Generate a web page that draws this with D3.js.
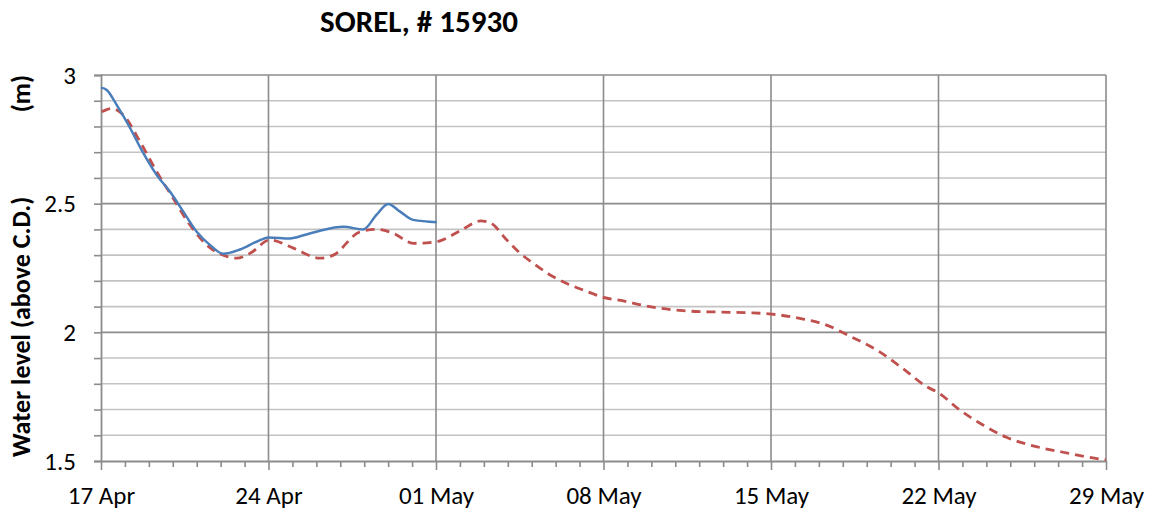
<!DOCTYPE html>
<html><head><meta charset="utf-8">
<script src="https://cdn.jsdelivr.net/npm/d3@7"></script>
<style>
body{margin:0;background:#fff;}
text{font-family:Carlito,Lato,"Liberation Sans",sans-serif;}
</style></head>
<body><svg id="c" width="1149" height="517"></svg>
<script>
// ---- data (day offset from 17 Apr, water level in m) ----
const xTickDays = [0, 7, 14, 21, 28, 35, 42];
const xTickLabels = ["17 Apr", "24 Apr", "01 May", "08 May", "15 May", "22 May", "29 May"];
const yTicks = [1.5, 2, 2.5, 3];
const observedDays = [0, 0.24, 0.66, 1.21, 1.77, 2.33, 2.88, 3.44, 4.0, 4.56, 5.11, 5.81, 6.5, 7.0, 7.9, 8.5, 9.15, 10.13, 10.96, 11.51, 12.0, 12.5, 13.05, 14.03];
const observedLevels = [2.951, 2.942, 2.883, 2.795, 2.696, 2.611, 2.547, 2.469, 2.391, 2.339, 2.305, 2.322, 2.352, 2.369, 2.365, 2.378, 2.395, 2.41, 2.40, 2.456, 2.499, 2.469, 2.437, 2.428];
const forecastDays = [0.03, 0.45, 0.93, 1.63, 2.33, 3.02, 3.72, 4.42, 5.11, 5.67, 6.23, 7.06, 8.04, 9.15, 9.71, 10.83, 11.52, 12.21, 13.05, 14.02, 15.02, 15.86, 16.26, 16.96, 17.52, 18.07, 18.77, 19.46, 20.16, 21.0, 21.83, 22.81, 24.33, 25.72, 27.12, 28.02, 29.2, 30.32, 31.3, 32.42, 33.6, 34.5, 35.0, 35.89, 36.86, 37.84, 38.95, 40.2, 41.74, 42];
const forecastLevels = [2.857, 2.87, 2.845, 2.741, 2.624, 2.52, 2.417, 2.339, 2.30, 2.288, 2.307, 2.359, 2.327, 2.288, 2.30, 2.391, 2.40, 2.385, 2.346, 2.352, 2.395, 2.433, 2.426, 2.359, 2.307, 2.268, 2.223, 2.19, 2.164, 2.136, 2.122, 2.102, 2.084, 2.079, 2.076, 2.071, 2.054, 2.028, 1.985, 1.931, 1.853, 1.789, 1.765, 1.698, 1.64, 1.592, 1.559, 1.534, 1.508, 1.505];

const svg = d3.select("#c");
const L = 101, R = 1106, T = 75, B = 461;
const x = d3.scaleLinear().domain([0, 42]).range([L, R]);
const y = d3.scaleLinear().domain([1.5, 3]).range([B, T]);
const g = svg.append("g");
const FONT = "Carlito,Lato,'Liberation Sans',sans-serif";

// horizontal gridlines every 0.1
const minorY = d3.range(16).map(i => +(1.5 + i * 0.1).toFixed(1));
g.selectAll(".hg").data(minorY.filter(v => v > 1.5)).enter().append("line")
  .attr("x1", L).attr("x2", R).attr("y1", d => y(d)).attr("y2", d => y(d))
  .attr("stroke", d => (Math.abs(d * 2 - Math.round(d * 2)) < 1e-6) ? "#8c8c8c" : "#c3c3c3")
  .attr("stroke-width", 1.6);
// vertical gridlines every 7 days
g.selectAll(".vg").data(xTickDays.slice(1)).enter().append("line")
  .attr("x1", d => x(d)).attr("x2", d => x(d)).attr("y1", T).attr("y2", B)
  .attr("stroke", "#8c8c8c").attr("stroke-width", 1.6);

// axes
const yAxis = d3.axisLeft(y).tickValues(minorY).tickSize(7).tickPadding(18)
  .tickFormat(d => yTicks.includes(d) ? String(d) : "");
const ya = svg.append("g").attr("transform", `translate(${L},0)`).call(yAxis);
const xMinor = d3.range(43);
const xAxis = d3.axisBottom(x).tickValues(xMinor)
  .tickSize(0).tickPadding(0).tickFormat("");
const xa = svg.append("g").attr("transform", `translate(0,${B})`).call(xAxis);
xa.selectAll(".tick line").attr("y2", d => xTickDays.includes(d) ? 9 : 6);
xa.selectAll(".tick").filter(d => xTickDays.includes(d)).append("text")
  .attr("y", 43).attr("text-anchor", "middle").attr("fill", "#000")
  .text(d => xTickLabels[xTickDays.indexOf(d)]);
[ya, xa].forEach(a => {
  a.select(".domain").attr("stroke", "#8c8c8c").attr("stroke-width", 1.8);
  a.selectAll(".tick line").attr("stroke", "#8c8c8c").attr("stroke-width", 1.6);
  a.selectAll("text").attr("font-size", 25).attr("fill", "#000")
    .style("font-family", FONT);
});
ya.selectAll("text").attr("dy", "0.33em");

// lines
const line = d3.line().x(d => x(d[0])).y(d => y(d[1])).curve(d3.curveMonotoneX);
svg.append("path").datum(forecastDays.map((d, i) => [d, forecastLevels[i]]))
  .attr("d", line).attr("fill", "none").attr("stroke", "#c0504d")
  .attr("stroke-width", 2.8).attr("stroke-dasharray", "9,6");
svg.append("path").datum(observedDays.map((d, i) => [d, observedLevels[i]]))
  .attr("d", line).attr("fill", "none").attr("stroke", "#4a7ebb")
  .attr("stroke-width", 2.5);

// titles
svg.append("text").attr("x", 419).attr("y", 32).attr("text-anchor", "middle")
  .attr("font-size", 31).attr("font-weight", "bold").style("font-family", FONT)
  .text("SOREL, # 15930");
svg.append("text").attr("transform", "translate(30,457) rotate(-90)")
  .attr("text-anchor", "start").attr("font-size", 26).attr("font-weight", "bold")
  .style("font-family", FONT).text("Water level (above C.D.)");
svg.append("text").attr("transform", "translate(30,75) rotate(-90)")
  .attr("text-anchor", "end").attr("font-size", 26).attr("font-weight", "bold")
  .style("font-family", FONT).text("(m)");
</script></body></html>
